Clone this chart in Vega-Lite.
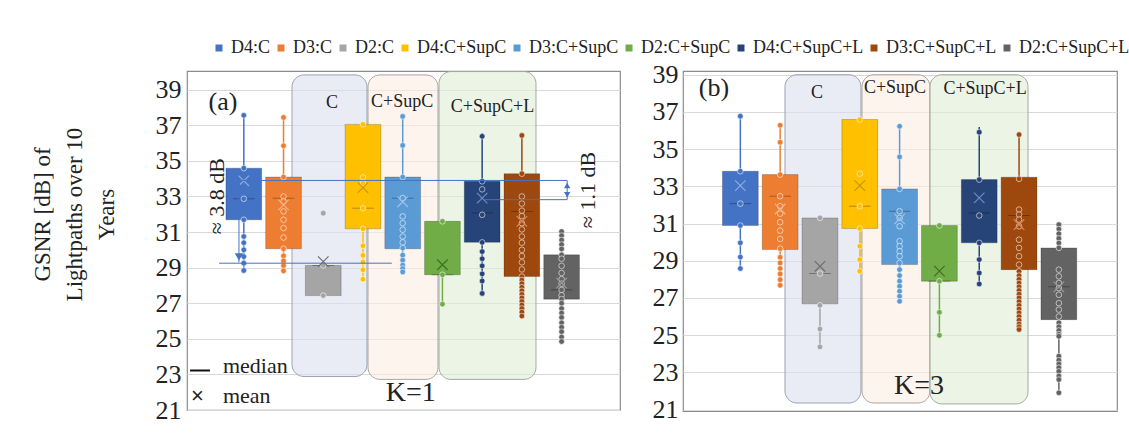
{
"$schema": "https://vega.github.io/schema/vega-lite/v6.json",
"background": "white",
"padding": {"left": 30, "top": 39, "right": 0, "bottom": 0},
"autosize": {"type": "pad"},
"bounds": "flush",
"spacing": 63,
"config": {"view": {"stroke": "#8C8C8C", "strokeWidth": 1.2}, "text": {"font": "Liberation Serif"}},
"resolve": {"scale": {"x": "independent", "y": "independent", "color": "shared", "stroke": "shared"}},
"datasets": {
"stats": [
{"panel":"a","series":"D4:C","min":28.84,"q1":31.69,"median":32.87,"q3":34.59,"max":37.56,"mean":33.88},
{"panel":"a","series":"D3:C","min":28.82,"q1":30.06,"median":32.9,"q3":34.09,"max":37.44,"mean":32.53},
{"panel":"a","series":"D2:C","min":27.43,"q1":27.43,"median":29.12,"q3":29.12,"max":29.12,"mean":29.34},
{"panel":"a","series":"D4:C+SupC","min":28.35,"q1":31.18,"median":32.34,"q3":37.05,"max":37.05,"mean":33.5},
{"panel":"a","series":"D3:C+SupC","min":28.76,"q1":30.06,"median":32.9,"q3":34.09,"max":37.5,"mean":32.7},
{"panel":"a","series":"D2:C+SupC","min":26.95,"q1":28.6,"median":28.6,"q3":31.6,"max":31.6,"mean":29.16},
{"panel":"a","series":"D4:C+SupC+L","min":27.55,"q1":30.42,"median":32.07,"q3":33.85,"max":36.56,"mean":32.91},
{"panel":"a","series":"D3:C+SupC+L","min":26.28,"q1":28.5,"median":32.16,"q3":34.28,"max":36.43,"mean":31.6},
{"panel":"a","series":"D2:C+SupC+L","min":24.85,"q1":27.23,"median":27.75,"q3":29.72,"max":31.03,"mean":28.13},
{"panel":"b","series":"D4:C","min":28.58,"q1":30.89,"median":32.07,"q3":33.81,"max":36.77,"mean":33.04},
{"panel":"b","series":"D3:C","min":27.68,"q1":29.6,"median":32.47,"q3":33.63,"max":36.28,"mean":31.78},
{"panel":"b","series":"D2:C","min":24.37,"q1":26.68,"median":28.31,"q3":31.3,"max":31.45,"mean":28.7},
{"panel":"b","series":"D4:C+SupC","min":28.44,"q1":30.73,"median":31.93,"q3":36.59,"max":36.59,"mean":33.04},
{"panel":"b","series":"D3:C+SupC","min":26.82,"q1":28.79,"median":31.66,"q3":32.86,"max":36.23,"mean":31.25},
{"panel":"b","series":"D2:C+SupC","min":24.99,"q1":27.9,"median":27.9,"q3":30.89,"max":30.89,"mean":28.44},
{"panel":"b","series":"D4:C+SupC+L","min":27.75,"q1":29.96,"median":31.57,"q3":33.36,"max":36.19,"mean":32.38},
{"panel":"b","series":"D3:C+SupC+L","min":25.3,"q1":28.52,"median":31.43,"q3":33.49,"max":35.78,"mean":30.94},
{"panel":"b","series":"D2:C+SupC+L","min":21.9,"q1":25.83,"median":27.6,"q3":29.69,"max":30.94,"mean":27.59}
],
"pts": [
{"panel":"a","series":"D4:C","v":37.56},{"panel":"a","series":"D4:C","v":34.59},{"panel":"a","series":"D4:C","v":32.87},{"panel":"a","series":"D4:C","v":31.69},{"panel":"a","series":"D4:C","v":30.75},{"panel":"a","series":"D4:C","v":30.4},{"panel":"a","series":"D4:C","v":30.0},{"panel":"a","series":"D4:C","v":29.62},{"panel":"a","series":"D4:C","v":29.25},{"panel":"a","series":"D4:C","v":28.84},
{"panel":"a","series":"D3:C","v":37.44},{"panel":"a","series":"D3:C","v":35.85},{"panel":"a","series":"D3:C","v":34.09},{"panel":"a","series":"D3:C","v":33.0},{"panel":"a","series":"D3:C","v":32.72},{"panel":"a","series":"D3:C","v":32.16},{"panel":"a","series":"D3:C","v":31.69},{"panel":"a","series":"D3:C","v":31.22},{"panel":"a","series":"D3:C","v":30.69},{"panel":"a","series":"D3:C","v":30.06},{"panel":"a","series":"D3:C","v":29.66},{"panel":"a","series":"D3:C","v":29.38},{"panel":"a","series":"D3:C","v":29.1},{"panel":"a","series":"D3:C","v":28.82},
{"panel":"a","series":"D2:C","v":32.06},{"panel":"a","series":"D2:C","v":29.12},{"panel":"a","series":"D2:C","v":27.43},
{"panel":"a","series":"D4:C+SupC","v":37.05},{"panel":"a","series":"D4:C+SupC","v":34.07},{"panel":"a","series":"D4:C+SupC","v":33.75},{"panel":"a","series":"D4:C+SupC","v":32.34},{"panel":"a","series":"D4:C+SupC","v":31.18},{"panel":"a","series":"D4:C+SupC","v":30.23},{"panel":"a","series":"D4:C+SupC","v":29.69},{"panel":"a","series":"D4:C+SupC","v":29.31},{"panel":"a","series":"D4:C+SupC","v":28.88},{"panel":"a","series":"D4:C+SupC","v":28.35},
{"panel":"a","series":"D3:C+SupC","v":37.5},{"panel":"a","series":"D3:C+SupC","v":35.87},{"panel":"a","series":"D3:C+SupC","v":34.09},{"panel":"a","series":"D3:C+SupC","v":32.91},{"panel":"a","series":"D3:C+SupC","v":31.88},{"panel":"a","series":"D3:C+SupC","v":31.5},{"panel":"a","series":"D3:C+SupC","v":31.13},{"panel":"a","series":"D3:C+SupC","v":30.75},{"panel":"a","series":"D3:C+SupC","v":30.42},{"panel":"a","series":"D3:C+SupC","v":30.1},{"panel":"a","series":"D3:C+SupC","v":29.7},{"panel":"a","series":"D3:C+SupC","v":29.42},{"panel":"a","series":"D3:C+SupC","v":29.14},{"panel":"a","series":"D3:C+SupC","v":28.95},{"panel":"a","series":"D3:C+SupC","v":28.76},
{"panel":"a","series":"D2:C+SupC","v":31.6},{"panel":"a","series":"D2:C+SupC","v":28.6},{"panel":"a","series":"D2:C+SupC","v":26.95},
{"panel":"a","series":"D4:C+SupC+L","v":36.38},{"panel":"a","series":"D4:C+SupC+L","v":33.85},{"panel":"a","series":"D4:C+SupC+L","v":33.4},{"panel":"a","series":"D4:C+SupC+L","v":31.97},{"panel":"a","series":"D4:C+SupC+L","v":30.42},{"panel":"a","series":"D4:C+SupC+L","v":29.9},{"panel":"a","series":"D4:C+SupC+L","v":29.5},{"panel":"a","series":"D4:C+SupC+L","v":29.1},{"panel":"a","series":"D4:C+SupC+L","v":28.65},{"panel":"a","series":"D4:C+SupC+L","v":28.25},{"panel":"a","series":"D4:C+SupC+L","v":27.55},
{"panel":"a","series":"D3:C+SupC+L","v":36.43},{"panel":"a","series":"D3:C+SupC+L","v":34.28},{"panel":"a","series":"D3:C+SupC+L","v":33.0},{"panel":"a","series":"D3:C+SupC+L","v":32.6},{"panel":"a","series":"D3:C+SupC+L","v":32.2},{"panel":"a","series":"D3:C+SupC+L","v":31.9},{"panel":"a","series":"D3:C+SupC+L","v":31.5},{"panel":"a","series":"D3:C+SupC+L","v":31.15},{"panel":"a","series":"D3:C+SupC+L","v":30.75},{"panel":"a","series":"D3:C+SupC+L","v":30.4},{"panel":"a","series":"D3:C+SupC+L","v":30.0},{"panel":"a","series":"D3:C+SupC+L","v":29.65},{"panel":"a","series":"D3:C+SupC+L","v":29.3},{"panel":"a","series":"D3:C+SupC+L","v":28.9},{"panel":"a","series":"D3:C+SupC+L","v":28.5},{"panel":"a","series":"D3:C+SupC+L","v":28.3},{"panel":"a","series":"D3:C+SupC+L","v":28.1},{"panel":"a","series":"D3:C+SupC+L","v":27.9},{"panel":"a","series":"D3:C+SupC+L","v":27.7},{"panel":"a","series":"D3:C+SupC+L","v":27.5},{"panel":"a","series":"D3:C+SupC+L","v":27.3},{"panel":"a","series":"D3:C+SupC+L","v":27.1},{"panel":"a","series":"D3:C+SupC+L","v":26.9},{"panel":"a","series":"D3:C+SupC+L","v":26.7},{"panel":"a","series":"D3:C+SupC+L","v":26.5},{"panel":"a","series":"D3:C+SupC+L","v":26.28},
{"panel":"a","series":"D2:C+SupC+L","v":31.03},{"panel":"a","series":"D2:C+SupC+L","v":30.8},{"panel":"a","series":"D2:C+SupC+L","v":30.55},{"panel":"a","series":"D2:C+SupC+L","v":30.3},{"panel":"a","series":"D2:C+SupC+L","v":30.05},{"panel":"a","series":"D2:C+SupC+L","v":29.72},{"panel":"a","series":"D2:C+SupC+L","v":29.5},{"panel":"a","series":"D2:C+SupC+L","v":29.1},{"panel":"a","series":"D2:C+SupC+L","v":28.7},{"panel":"a","series":"D2:C+SupC+L","v":28.35},{"panel":"a","series":"D2:C+SupC+L","v":28.1},{"panel":"a","series":"D2:C+SupC+L","v":27.75},{"panel":"a","series":"D2:C+SupC+L","v":27.45},{"panel":"a","series":"D2:C+SupC+L","v":27.23},{"panel":"a","series":"D2:C+SupC+L","v":27.0},{"panel":"a","series":"D2:C+SupC+L","v":26.7},{"panel":"a","series":"D2:C+SupC+L","v":26.45},{"panel":"a","series":"D2:C+SupC+L","v":26.2},{"panel":"a","series":"D2:C+SupC+L","v":25.9},{"panel":"a","series":"D2:C+SupC+L","v":25.65},{"panel":"a","series":"D2:C+SupC+L","v":25.4},{"panel":"a","series":"D2:C+SupC+L","v":25.1},{"panel":"a","series":"D2:C+SupC+L","v":24.85},
{"panel":"b","series":"D4:C","v":36.77},{"panel":"b","series":"D4:C","v":33.81},{"panel":"b","series":"D4:C","v":32.07},{"panel":"b","series":"D4:C","v":30.89},{"panel":"b","series":"D4:C","v":29.96},{"panel":"b","series":"D4:C","v":29.2},{"panel":"b","series":"D4:C","v":28.58},
{"panel":"b","series":"D3:C","v":36.28},{"panel":"b","series":"D3:C","v":35.37},{"panel":"b","series":"D3:C","v":33.63},{"panel":"b","series":"D3:C","v":32.47},{"panel":"b","series":"D3:C","v":31.93},{"panel":"b","series":"D3:C","v":31.53},{"panel":"b","series":"D3:C","v":31.07},{"panel":"b","series":"D3:C","v":30.62},{"panel":"b","series":"D3:C","v":30.17},{"panel":"b","series":"D3:C","v":29.65},{"panel":"b","series":"D3:C","v":29.19},{"panel":"b","series":"D3:C","v":28.88},{"panel":"b","series":"D3:C","v":28.58},{"panel":"b","series":"D3:C","v":28.29},{"panel":"b","series":"D3:C","v":27.98},{"panel":"b","series":"D3:C","v":27.68},
{"panel":"b","series":"D2:C","v":31.3},{"panel":"b","series":"D2:C","v":28.31},{"panel":"b","series":"D2:C","v":26.6},{"panel":"b","series":"D2:C","v":25.33},{"panel":"b","series":"D2:C","v":24.37},
{"panel":"b","series":"D4:C+SupC","v":36.59},{"panel":"b","series":"D4:C+SupC","v":33.68},{"panel":"b","series":"D4:C+SupC","v":31.93},{"panel":"b","series":"D4:C+SupC","v":30.73},{"panel":"b","series":"D4:C+SupC","v":29.78},{"panel":"b","series":"D4:C+SupC","v":29.06},{"panel":"b","series":"D4:C+SupC","v":28.44},
{"panel":"b","series":"D3:C+SupC","v":36.23},{"panel":"b","series":"D3:C+SupC","v":34.58},{"panel":"b","series":"D3:C+SupC","v":32.86},{"panel":"b","series":"D3:C+SupC","v":31.66},{"panel":"b","series":"D3:C+SupC","v":31.3},{"panel":"b","series":"D3:C+SupC","v":30.85},{"panel":"b","series":"D3:C+SupC","v":30.05},{"panel":"b","series":"D3:C+SupC","v":29.78},{"panel":"b","series":"D3:C+SupC","v":29.51},{"panel":"b","series":"D3:C+SupC","v":29.24},{"panel":"b","series":"D3:C+SupC","v":28.88},{"panel":"b","series":"D3:C+SupC","v":28.52},{"panel":"b","series":"D3:C+SupC","v":28.2},{"panel":"b","series":"D3:C+SupC","v":27.9},{"panel":"b","series":"D3:C+SupC","v":27.63},{"panel":"b","series":"D3:C+SupC","v":27.36},{"panel":"b","series":"D3:C+SupC","v":27.09},{"panel":"b","series":"D3:C+SupC","v":26.82},
{"panel":"b","series":"D2:C+SupC","v":30.89},{"panel":"b","series":"D2:C+SupC","v":27.9},{"panel":"b","series":"D2:C+SupC","v":26.23},{"panel":"b","series":"D2:C+SupC","v":24.99},
{"panel":"b","series":"D4:C+SupC+L","v":35.91},{"panel":"b","series":"D4:C+SupC+L","v":33.36},{"panel":"b","series":"D4:C+SupC+L","v":31.43},{"panel":"b","series":"D4:C+SupC+L","v":29.96},{"panel":"b","series":"D4:C+SupC+L","v":29.06},{"panel":"b","series":"D4:C+SupC+L","v":28.34},{"panel":"b","series":"D4:C+SupC+L","v":27.75},
{"panel":"b","series":"D3:C+SupC+L","v":35.78},{"panel":"b","series":"D3:C+SupC+L","v":33.4},{"panel":"b","series":"D3:C+SupC+L","v":31.75},{"panel":"b","series":"D3:C+SupC+L","v":31.48},{"panel":"b","series":"D3:C+SupC+L","v":31.21},{"panel":"b","series":"D3:C+SupC+L","v":30.85},{"panel":"b","series":"D3:C+SupC+L","v":30.13},{"panel":"b","series":"D3:C+SupC+L","v":29.69},{"panel":"b","series":"D3:C+SupC+L","v":29.24},{"panel":"b","series":"D3:C+SupC+L","v":28.79},{"panel":"b","series":"D3:C+SupC+L","v":28.43},{"panel":"b","series":"D3:C+SupC+L","v":28.2},{"panel":"b","series":"D3:C+SupC+L","v":28.0},{"panel":"b","series":"D3:C+SupC+L","v":27.8},{"panel":"b","series":"D3:C+SupC+L","v":27.6},{"panel":"b","series":"D3:C+SupC+L","v":27.4},{"panel":"b","series":"D3:C+SupC+L","v":27.2},{"panel":"b","series":"D3:C+SupC+L","v":27.0},{"panel":"b","series":"D3:C+SupC+L","v":26.8},{"panel":"b","series":"D3:C+SupC+L","v":26.6},{"panel":"b","series":"D3:C+SupC+L","v":26.4},{"panel":"b","series":"D3:C+SupC+L","v":26.2},{"panel":"b","series":"D3:C+SupC+L","v":26.0},{"panel":"b","series":"D3:C+SupC+L","v":25.8},{"panel":"b","series":"D3:C+SupC+L","v":25.6},{"panel":"b","series":"D3:C+SupC+L","v":25.45},{"panel":"b","series":"D3:C+SupC+L","v":25.3},
{"panel":"b","series":"D2:C+SupC+L","v":30.94},{"panel":"b","series":"D2:C+SupC+L","v":30.7},{"panel":"b","series":"D2:C+SupC+L","v":30.45},{"panel":"b","series":"D2:C+SupC+L","v":30.2},{"panel":"b","series":"D2:C+SupC+L","v":29.95},{"panel":"b","series":"D2:C+SupC+L","v":29.69},{"panel":"b","series":"D2:C+SupC+L","v":28.52},{"panel":"b","series":"D2:C+SupC+L","v":28.16},{"panel":"b","series":"D2:C+SupC+L","v":27.8},{"panel":"b","series":"D2:C+SupC+L","v":27.53},{"panel":"b","series":"D2:C+SupC+L","v":27.17},{"panel":"b","series":"D2:C+SupC+L","v":26.72},{"panel":"b","series":"D2:C+SupC+L","v":26.37},{"panel":"b","series":"D2:C+SupC+L","v":26.0},{"panel":"b","series":"D2:C+SupC+L","v":25.66},{"panel":"b","series":"D2:C+SupC+L","v":25.45},{"panel":"b","series":"D2:C+SupC+L","v":25.25},{"panel":"b","series":"D2:C+SupC+L","v":25.05},{"panel":"b","series":"D2:C+SupC+L","v":24.94},{"panel":"b","series":"D2:C+SupC+L","v":23.87},{"panel":"b","series":"D2:C+SupC+L","v":23.65},{"panel":"b","series":"D2:C+SupC+L","v":23.45},{"panel":"b","series":"D2:C+SupC+L","v":23.25},{"panel":"b","series":"D2:C+SupC+L","v":23.05},{"panel":"b","series":"D2:C+SupC+L","v":22.8},{"panel":"b","series":"D2:C+SupC+L","v":22.61},{"panel":"b","series":"D2:C+SupC+L","v":21.9}
]
},
"hconcat": [
{
"width": 433, "height": 339,
"resolve": {"scale": {"x": "independent"}},
"layer": [
{
"data": {"values": [{}]},
"layer": [
{"mark": {"type": "rect", "cornerRadius": 12, "fill": "#DADFED", "fillOpacity": 0.6, "stroke": "#99A2B4", "strokeWidth": 1},
 "encoding": {"x": {"datum": 0.2425, "type": "quantitative", "scale": {"domain": [0, 1]}, "axis": null}, "x2": {"datum": 0.4157}, "y": {"datum": 39.83, "type": "quantitative"}, "y2": {"datum": 22.88}}},
{"mark": {"type": "rect", "cornerRadius": 12, "fill": "#FCEDE3", "fillOpacity": 0.6, "stroke": "#A9A5A3", "strokeWidth": 1},
 "encoding": {"x": {"datum": 0.418, "type": "quantitative", "scale": {"domain": [0, 1]}, "axis": null}, "x2": {"datum": 0.5797}, "y": {"datum": 39.83, "type": "quantitative"}, "y2": {"datum": 22.72}}},
{"mark": {"type": "rect", "cornerRadius": 12, "fill": "#DFEDD5", "fillOpacity": 0.6, "stroke": "#A3AA9E", "strokeWidth": 1},
 "encoding": {"x": {"datum": 0.582, "type": "quantitative", "scale": {"domain": [0, 1]}, "axis": null}, "x2": {"datum": 0.806}, "y": {"datum": 40.02, "type": "quantitative"}, "y2": {"datum": 22.72}}},
{"mark": {"type": "text", "fontSize": 18, "color": "#222222", "baseline": "middle"},
 "encoding": {"x": {"datum": 0.335, "type": "quantitative", "scale": {"domain": [0, 1]}, "axis": null}, "y": {"datum": 38.25, "type": "quantitative"}, "text": {"value": "C"}}},
{"mark": {"type": "text", "fontSize": 18, "color": "#222222", "baseline": "middle"},
 "encoding": {"x": {"datum": 0.497, "type": "quantitative", "scale": {"domain": [0, 1]}, "axis": null}, "y": {"datum": 38.33, "type": "quantitative"}, "text": {"value": "C+SupC"}}},
{"mark": {"type": "text", "fontSize": 18, "color": "#222222", "baseline": "middle"},
 "encoding": {"x": {"datum": 0.7055, "type": "quantitative", "scale": {"domain": [0, 1]}, "axis": null}, "y": {"datum": 38.05, "type": "quantitative"}, "text": {"value": "C+SupC+L"}}}
]
},
{
"encoding": {"x": {"field": "series", "type": "nominal", "scale": {"domain": ["D4:C","D3:C","D2:C","D4:C+SupC","D3:C+SupC","D2:C+SupC","D4:C+SupC+L","D3:C+SupC+L","D2:C+SupC+L"], "paddingInner": 0.1, "paddingOuter": 4.59, "align": 0.49}, "axis": null}},
"layer": [
{"data": {"name": "stats"}, "transform": [{"filter": "datum.panel === 'a'"}],
 "mark": {"type": "rule", "strokeWidth": 1.5},
 "encoding": {
  "y": {"field": "min", "type": "quantitative", "scale": {"domain": [21, 40.05], "nice": false, "zero": false},
   "axis": {"values": [21,23,25,27,29,31,33,35,37,39], "format": ".0f", "tickCount": 30, "ticks": false, "domain": false, "grid": true, "gridColor": "#D9D9D9", "gridWidth": 1, "labelFont": "Liberation Serif", "labelFontSize": 26, "labelColor": "#222222", "labelPadding": 6, "labelOverlap": false, "title": ["GSNR [dB] of", "Lightpaths over 10", "Years"], "titleFont": "Liberation Serif", "titleFontSize": 23, "titleFontWeight": "normal", "titleColor": "#222222", "titleLineHeight": 32, "titleX": -145, "titleY": 143, "titleAlign": "center", "titleBaseline": "middle", "titleAngle": -90}},
  "y2": {"field": "max"},
  "color": {"field": "series", "type": "nominal", "scale": {"domain": ["D4:C","D3:C","D2:C","D4:C+SupC","D3:C+SupC","D2:C+SupC","D4:C+SupC+L","D3:C+SupC+L","D2:C+SupC+L"], "range": ["#4472C4","#ED7D31","#A5A5A5","#FFC000","#5B9BD5","#70AD47","#264478","#9E480E","#636363"]}, "legend": {"title": null, "orient": "none", "legendX": 23, "legendY": -32, "direction": "horizontal", "columns": 9, "symbolType": "square", "symbolSize": 49, "symbolStrokeWidth": 0, "labelFont": "Liberation Serif", "labelFontSize": 18, "labelColor": "#222222", "columnPadding": 1, "labelOffset": 3}}
 }},
{"data": {"name": "stats"}, "transform": [{"filter": "datum.panel === 'a'"}],
 "mark": {"type": "bar", "stroke": "#000000", "strokeOpacity": 0.2, "strokeWidth": 1},
 "encoding": {"y": {"field": "q1", "type": "quantitative"}, "y2": {"field": "q3"},
  "color": {"field": "series", "type": "nominal", "scale": {"domain": ["D4:C","D3:C","D2:C","D4:C+SupC","D3:C+SupC","D2:C+SupC","D4:C+SupC+L","D3:C+SupC+L","D2:C+SupC+L"], "range": ["#4472C4","#ED7D31","#A5A5A5","#FFC000","#5B9BD5","#70AD47","#264478","#9E480E","#636363"]}, "legend": {"title": null, "orient": "none", "legendX": 23, "legendY": -32, "direction": "horizontal", "columns": 9, "symbolType": "square", "symbolSize": 49, "symbolStrokeWidth": 0, "labelFont": "Liberation Serif", "labelFontSize": 18, "labelColor": "#222222", "columnPadding": 1, "labelOffset": 3}}}},
{"data": {"name": "stats"}, "transform": [{"filter": "datum.panel === 'a'"}],
 "mark": {"type": "tick", "size": 21.6, "thickness": 1, "color": "#000000", "opacity": 0.3},
 "encoding": {"y": {"field": "median", "type": "quantitative"}}},
{"data": {"name": "pts"}, "transform": [{"filter": "datum.panel === 'a'"}],
 "mark": {"type": "point", "filled": true, "size": 32, "stroke": "#ffffff", "strokeOpacity": 0.55, "strokeWidth": 1, "opacity": 1},
 "encoding": {"y": {"field": "v", "type": "quantitative"},
  "color": {"field": "series", "type": "nominal", "scale": {"domain": ["D4:C","D3:C","D2:C","D4:C+SupC","D3:C+SupC","D2:C+SupC","D4:C+SupC+L","D3:C+SupC+L","D2:C+SupC+L"], "range": ["#4472C4","#ED7D31","#A5A5A5","#FFC000","#5B9BD5","#70AD47","#264478","#9E480E","#636363"]}, "legend": {"title": null, "orient": "none", "legendX": 23, "legendY": -32, "direction": "horizontal", "columns": 9, "symbolType": "square", "symbolSize": 49, "symbolStrokeWidth": 0, "labelFont": "Liberation Serif", "labelFontSize": 18, "labelColor": "#222222", "columnPadding": 1, "labelOffset": 3}}}},
{"data": {"name": "stats"}, "transform": [{"filter": "datum.panel === 'a'"}],
 "mark": {"type": "point", "shape": "M-1,-1L1,1M1,-1L-1,1", "filled": false, "size": 110, "strokeWidth": 1.2, "opacity": 1},
 "encoding": {"y": {"field": "mean", "type": "quantitative"},
  "stroke": {"field": "series", "type": "nominal", "scale": {"domain": ["D4:C","D3:C","D2:C","D4:C+SupC","D3:C+SupC","D2:C+SupC","D4:C+SupC+L","D3:C+SupC+L","D2:C+SupC+L"], "range": ["#8FAADC","#F4B183","#6E6E6E","#C99700","#9DC3E6","#3F6E25","#6F8DC2","#D98A5A","#9A9A9A"]}, "legend": null}}}
]
},
{
"data": {"values": [{}]},
"layer": [
{"mark": {"type": "rule", "color": "#4472C4", "strokeWidth": 1},
 "encoding": {"x": {"datum": 0.095, "type": "quantitative", "scale": {"domain": [0, 1]}, "axis": null}, "x2": {"datum": 0.878}, "y": {"datum": 33.9, "type": "quantitative"}}},
{"mark": {"type": "rule", "color": "#4472C4", "strokeWidth": 1},
 "encoding": {"x": {"datum": 0.074, "type": "quantitative", "scale": {"domain": [0, 1]}, "axis": null}, "x2": {"datum": 0.473}, "y": {"datum": 29.25, "type": "quantitative"}}},
{"mark": {"type": "rule", "color": "#4472C4", "strokeWidth": 1},
 "encoding": {"x": {"datum": 0.688, "type": "quantitative", "scale": {"domain": [0, 1]}, "axis": null}, "x2": {"datum": 0.878}, "y": {"datum": 32.82, "type": "quantitative"}}},
{"mark": {"type": "rule", "color": "#4472C4", "strokeWidth": 1},
 "encoding": {"x": {"datum": 0.12, "type": "quantitative", "scale": {"domain": [0, 1]}, "axis": null}, "y": {"datum": 33.85, "type": "quantitative"}, "y2": {"datum": 29.3}}},
{"mark": {"type": "point", "shape": "triangle-up", "filled": true, "color": "#4472C4", "size": 70, "opacity": 1},
 "encoding": {"x": {"datum": 0.12, "type": "quantitative", "scale": {"domain": [0, 1]}, "axis": null}, "y": {"datum": 33.55, "type": "quantitative"}}},
{"mark": {"type": "point", "shape": "triangle-down", "filled": true, "color": "#4472C4", "size": 70, "opacity": 1},
 "encoding": {"x": {"datum": 0.12, "type": "quantitative", "scale": {"domain": [0, 1]}, "axis": null}, "y": {"datum": 29.6, "type": "quantitative"}}},
{"mark": {"type": "rule", "color": "#4472C4", "strokeWidth": 1},
 "encoding": {"x": {"datum": 0.878, "type": "quantitative", "scale": {"domain": [0, 1]}, "axis": null}, "y": {"datum": 33.9, "type": "quantitative"}, "y2": {"datum": 32.82}}},
{"mark": {"type": "point", "shape": "triangle-up", "filled": true, "color": "#4472C4", "size": 40, "opacity": 1},
 "encoding": {"x": {"datum": 0.878, "type": "quantitative", "scale": {"domain": [0, 1]}, "axis": null}, "y": {"datum": 33.62, "type": "quantitative"}}},
{"mark": {"type": "point", "shape": "triangle-down", "filled": true, "color": "#4472C4", "size": 40, "opacity": 1},
 "encoding": {"x": {"datum": 0.878, "type": "quantitative", "scale": {"domain": [0, 1]}, "axis": null}, "y": {"datum": 33.1, "type": "quantitative"}}},
{"mark": {"type": "text", "fontSize": 22, "color": "#222222", "angle": 270, "baseline": "middle", "align": "center"},
 "encoding": {"x": {"datum": 0.069, "type": "quantitative", "scale": {"domain": [0, 1]}, "axis": null}, "y": {"datum": 33.02, "type": "quantitative"}, "text": {"value": "≈ 3.8 dB"}}},
{"mark": {"type": "text", "fontSize": 22, "color": "#222222", "angle": 270, "baseline": "middle", "align": "center"},
 "encoding": {"x": {"datum": 0.926, "type": "quantitative", "scale": {"domain": [0, 1]}, "axis": null}, "y": {"datum": 33.36, "type": "quantitative"}, "text": {"value": "≈ 1.1 dB"}}},
{"mark": {"type": "text", "fontSize": 26, "color": "#222222", "baseline": "middle", "align": "center"},
 "encoding": {"x": {"datum": 0.083, "type": "quantitative", "scale": {"domain": [0, 1]}, "axis": null}, "y": {"datum": 38.31, "type": "quantitative"}, "text": {"value": "(a)"}}},
{"mark": {"type": "text", "fontSize": 28, "color": "#222222", "baseline": "middle", "align": "center"},
 "encoding": {"x": {"datum": 0.517, "type": "quantitative", "scale": {"domain": [0, 1]}, "axis": null}, "y": {"datum": 21.93, "type": "quantitative"}, "text": {"value": "K=1"}}},
{"mark": {"type": "rule", "color": "#111111", "strokeWidth": 2},
 "encoding": {"x": {"datum": 0.007, "type": "quantitative", "scale": {"domain": [0, 1]}, "axis": null}, "x2": {"datum": 0.053}, "y": {"datum": 23.22, "type": "quantitative"}}},
{"mark": {"type": "text", "fontSize": 22, "color": "#222222", "baseline": "middle", "align": "left"},
 "encoding": {"x": {"datum": 0.083, "type": "quantitative", "scale": {"domain": [0, 1]}, "axis": null}, "y": {"datum": 23.5, "type": "quantitative"}, "text": {"value": "median"}}},
{"mark": {"type": "text", "fontSize": 22, "font": "Liberation Sans", "color": "#222222", "baseline": "middle", "align": "center"},
 "encoding": {"x": {"datum": 0.024, "type": "quantitative", "scale": {"domain": [0, 1]}, "axis": null}, "y": {"datum": 21.76, "type": "quantitative"}, "text": {"value": "×"}}},
{"mark": {"type": "text", "fontSize": 22, "color": "#222222", "baseline": "middle", "align": "left"},
 "encoding": {"x": {"datum": 0.083, "type": "quantitative", "scale": {"domain": [0, 1]}, "axis": null}, "y": {"datum": 21.76, "type": "quantitative"}, "text": {"value": "mean"}}}
]
}
]
},
{
"width": 434, "height": 340,
"resolve": {"scale": {"x": "independent"}},
"layer": [
{
"data": {"values": [{}]},
"layer": [
{"mark": {"type": "rect", "cornerRadius": 12, "fill": "#DADFED", "fillOpacity": 0.6, "stroke": "#99A2B4", "strokeWidth": 1},
 "encoding": {"x": {"datum": 0.235, "type": "quantitative", "scale": {"domain": [0, 1]}, "axis": null}, "x2": {"datum": 0.41}, "y": {"datum": 39.0, "type": "quantitative"}, "y2": {"datum": 21.35}}},
{"mark": {"type": "rect", "cornerRadius": 12, "fill": "#FCEDE3", "fillOpacity": 0.6, "stroke": "#A9A5A3", "strokeWidth": 1},
 "encoding": {"x": {"datum": 0.4124, "type": "quantitative", "scale": {"domain": [0, 1]}, "axis": null}, "x2": {"datum": 0.569}, "y": {"datum": 39.0, "type": "quantitative"}, "y2": {"datum": 21.35}}},
{"mark": {"type": "rect", "cornerRadius": 12, "fill": "#DFEDD5", "fillOpacity": 0.6, "stroke": "#A3AA9E", "strokeWidth": 1},
 "encoding": {"x": {"datum": 0.569, "type": "quantitative", "scale": {"domain": [0, 1]}, "axis": null}, "x2": {"datum": 0.795}, "y": {"datum": 39.0, "type": "quantitative"}, "y2": {"datum": 21.3}}},
{"mark": {"type": "text", "fontSize": 18, "color": "#222222", "baseline": "middle"},
 "encoding": {"x": {"datum": 0.3088, "type": "quantitative", "scale": {"domain": [0, 1]}, "axis": null}, "y": {"datum": 38.02, "type": "quantitative"}, "text": {"value": "C"}}},
{"mark": {"type": "text", "fontSize": 18, "color": "#222222", "baseline": "middle"},
 "encoding": {"x": {"datum": 0.4885, "type": "quantitative", "scale": {"domain": [0, 1]}, "axis": null}, "y": {"datum": 38.26, "type": "quantitative"}, "text": {"value": "C+SupC"}}},
{"mark": {"type": "text", "fontSize": 18, "color": "#222222", "baseline": "middle"},
 "encoding": {"x": {"datum": 0.696, "type": "quantitative", "scale": {"domain": [0, 1]}, "axis": null}, "y": {"datum": 38.21, "type": "quantitative"}, "text": {"value": "C+SupC+L"}}}
]
},
{
"encoding": {"x": {"field": "series", "type": "nominal", "scale": {"domain": ["D4:C","D3:C","D2:C","D4:C+SupC","D3:C+SupC","D2:C+SupC","D4:C+SupC+L","D3:C+SupC+L","D2:C+SupC+L"], "paddingInner": 0.1, "paddingOuter": 4.59, "align": 0.495}, "axis": null}},
"layer": [
{"data": {"name": "stats"}, "transform": [{"filter": "datum.panel === 'b'"}],
 "mark": {"type": "rule", "strokeWidth": 1.5},
 "encoding": {
  "y": {"field": "min", "type": "quantitative", "scale": {"domain": [20.92, 39.2], "nice": false, "zero": false},
   "axis": {"values": [21,23,25,27,29,31,33,35,37,39], "format": ".0f", "tickCount": 30, "ticks": false, "domain": false, "grid": true, "gridColor": "#D9D9D9", "gridWidth": 1, "labelFont": "Liberation Serif", "labelFontSize": 26, "labelColor": "#222222", "labelPadding": 5, "labelOverlap": false, "title": null}},
  "y2": {"field": "max"},
  "color": {"field": "series", "type": "nominal", "scale": {"domain": ["D4:C","D3:C","D2:C","D4:C+SupC","D3:C+SupC","D2:C+SupC","D4:C+SupC+L","D3:C+SupC+L","D2:C+SupC+L"], "range": ["#4472C4","#ED7D31","#A5A5A5","#FFC000","#5B9BD5","#70AD47","#264478","#9E480E","#636363"]}, "legend": {"title": null, "orient": "none", "legendX": 23, "legendY": -32, "direction": "horizontal", "columns": 9, "symbolType": "square", "symbolSize": 49, "symbolStrokeWidth": 0, "labelFont": "Liberation Serif", "labelFontSize": 18, "labelColor": "#222222", "columnPadding": 1, "labelOffset": 3}}
 }},
{"data": {"name": "stats"}, "transform": [{"filter": "datum.panel === 'b'"}],
 "mark": {"type": "bar", "stroke": "#000000", "strokeOpacity": 0.2, "strokeWidth": 1},
 "encoding": {"y": {"field": "q1", "type": "quantitative"}, "y2": {"field": "q3"},
  "color": {"field": "series", "type": "nominal", "scale": {"domain": ["D4:C","D3:C","D2:C","D4:C+SupC","D3:C+SupC","D2:C+SupC","D4:C+SupC+L","D3:C+SupC+L","D2:C+SupC+L"], "range": ["#4472C4","#ED7D31","#A5A5A5","#FFC000","#5B9BD5","#70AD47","#264478","#9E480E","#636363"]}, "legend": {"title": null, "orient": "none", "legendX": 23, "legendY": -32, "direction": "horizontal", "columns": 9, "symbolType": "square", "symbolSize": 49, "symbolStrokeWidth": 0, "labelFont": "Liberation Serif", "labelFontSize": 18, "labelColor": "#222222", "columnPadding": 1, "labelOffset": 3}}}},
{"data": {"name": "stats"}, "transform": [{"filter": "datum.panel === 'b'"}],
 "mark": {"type": "tick", "size": 21.6, "thickness": 1, "color": "#000000", "opacity": 0.3},
 "encoding": {"y": {"field": "median", "type": "quantitative"}}},
{"data": {"name": "pts"}, "transform": [{"filter": "datum.panel === 'b'"}],
 "mark": {"type": "point", "filled": true, "size": 32, "stroke": "#ffffff", "strokeOpacity": 0.55, "strokeWidth": 1, "opacity": 1},
 "encoding": {"y": {"field": "v", "type": "quantitative"},
  "color": {"field": "series", "type": "nominal", "scale": {"domain": ["D4:C","D3:C","D2:C","D4:C+SupC","D3:C+SupC","D2:C+SupC","D4:C+SupC+L","D3:C+SupC+L","D2:C+SupC+L"], "range": ["#4472C4","#ED7D31","#A5A5A5","#FFC000","#5B9BD5","#70AD47","#264478","#9E480E","#636363"]}, "legend": {"title": null, "orient": "none", "legendX": 23, "legendY": -32, "direction": "horizontal", "columns": 9, "symbolType": "square", "symbolSize": 49, "symbolStrokeWidth": 0, "labelFont": "Liberation Serif", "labelFontSize": 18, "labelColor": "#222222", "columnPadding": 1, "labelOffset": 3}}}},
{"data": {"name": "stats"}, "transform": [{"filter": "datum.panel === 'b'"}],
 "mark": {"type": "point", "shape": "M-1,-1L1,1M1,-1L-1,1", "filled": false, "size": 110, "strokeWidth": 1.2, "opacity": 1},
 "encoding": {"y": {"field": "mean", "type": "quantitative"},
  "stroke": {"field": "series", "type": "nominal", "scale": {"domain": ["D4:C","D3:C","D2:C","D4:C+SupC","D3:C+SupC","D2:C+SupC","D4:C+SupC+L","D3:C+SupC+L","D2:C+SupC+L"], "range": ["#8FAADC","#F4B183","#6E6E6E","#C99700","#9DC3E6","#3F6E25","#6F8DC2","#D98A5A","#9A9A9A"]}, "legend": null}}}
]
},
{
"data": {"values": [{}]},
"layer": [
{"mark": {"type": "text", "fontSize": 26, "color": "#222222", "baseline": "middle", "align": "center"},
 "encoding": {"x": {"datum": 0.0714, "type": "quantitative", "scale": {"domain": [0, 1]}, "axis": null}, "y": {"datum": 38.29, "type": "quantitative"}, "text": {"value": "(b)"}}},
{"mark": {"type": "text", "fontSize": 28, "color": "#222222", "baseline": "middle", "align": "center"},
 "encoding": {"x": {"datum": 0.5438, "type": "quantitative", "scale": {"domain": [0, 1]}, "axis": null}, "y": {"datum": 22.27, "type": "quantitative"}, "text": {"value": "K=3"}}}
]
}
]
}
]
}
